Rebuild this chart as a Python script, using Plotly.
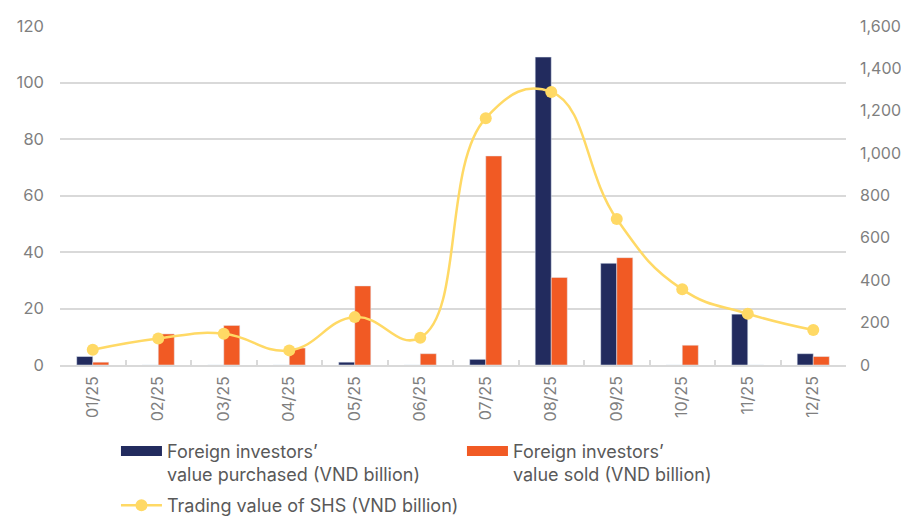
import plotly.graph_objects as go

months = ['01/25', '02/25', '03/25', '04/25', '05/25', '06/25',
          '07/25', '08/25', '09/25', '10/25', '11/25', '12/25']
purchased = [3, 0, 0, 0, 1, 0, 2, 109, 36, 0, 18, 4]
sold = [1, 11, 14, 6, 28, 4, 74, 31, 38, 7, 0, 3]
trading_value = [72, 125, 148, 69, 226, 129, 1165, 1289, 689, 357, 242, 165]

purchased_label = 'Foreign investors’<br>value purchased (VND billion)'
sold_label = 'Foreign investors’<br>value sold (VND billion)'
trading_label = 'Trading value of SHS (VND billion)'

navy = '#222B5E'
orange = '#F15A24'
yellow = '#FFD965'
grid = '#D9D9D9'
tick_grey = '#7F7F7F'
legend_grey = '#595959'

fig = go.Figure()

fig.add_trace(
    go.Bar(x=months, y=purchased, name=purchased_label,
           marker_color=navy, showlegend=False)
)
fig.add_trace(
    go.Bar(x=months, y=sold, name=sold_label,
           marker_color=orange, showlegend=False)
)
fig.add_trace(
    go.Scatter(x=months, y=trading_value,
               name=trading_label,
               mode='lines+markers',
               line=dict(color=yellow, width=2.5, shape='spline', smoothing=1.3),
               marker=dict(size=12, color=yellow),
               yaxis='y2', legend='legend2')
)

# legend-only entries so the bar keys look like wide blocks
for label, colour in [(purchased_label, navy), (sold_label, orange)]:
    fig.add_trace(
        go.Scatter(x=[months[0]], y=[None], name=label, mode='lines',
                   line=dict(color=colour, width=10), legend='legend')
    )

# the page body adds an 8px margin, so the figure is 8px smaller each way
fig.update_layout(
    barmode='group',
    bargap=0.51,
    bargroupgap=0,
    font=dict(family="Inter", size=15, color=tick_grey),
    plot_bgcolor='white',
    paper_bgcolor='white',
    xaxis=dict(range=[-0.5, 11.5],
               showline=True,
               linecolor=grid,
               linewidth=1.5,
               showgrid=False,
               ticks='inside',
               tickson='boundaries',
               ticklen=5,
               tickcolor=grid,
               tickwidth=1.5,
               tickangle=-90,
               ticklabelstandoff=3,
               tickfont=dict(size=16, color=tick_grey),
               automargin=False,
               ),
    yaxis=dict(range=[0, 120],
               dtick=20,
               showgrid=True,
               gridcolor=grid,
               gridwidth=1.5,
               zeroline=False,
               showline=False,
               ticks='',
               ticklabelstandoff=15,
               tickfont=dict(size=16.5, color=tick_grey),
               automargin=False,
               ),
    yaxis2=dict(range=[0, 1600],
                dtick=200,
                overlaying='y',
                side='right',
                showgrid=False,
                zeroline=False,
                ticks='',
                tickformat=',',
                ticklabelstandoff=13,
                tickfont=dict(size=16, color=tick_grey),
                automargin=False,
                ),
    legend=dict(orientation='h',
                x=0.0712, xanchor='left',
                y=-0.1997, yanchor='top',
                entrywidth=290,
                itemwidth=41,
                valign='top',
                font=dict(family="Inter", size=18, color=legend_grey),
                traceorder='normal',
                ),
    legend2=dict(orientation='h',
                 x=0.0712, xanchor='left',
                 y=-0.36, yanchor='top',
                 itemwidth=41,
                 font=dict(family="Inter", size=18, color=legend_grey),
                 ),
    margin=dict(l=52, r=63, t=18, b=153, pad=0, autoexpand=False),
    height=510,
    width=901,
)

fig.write_html("out.html")
